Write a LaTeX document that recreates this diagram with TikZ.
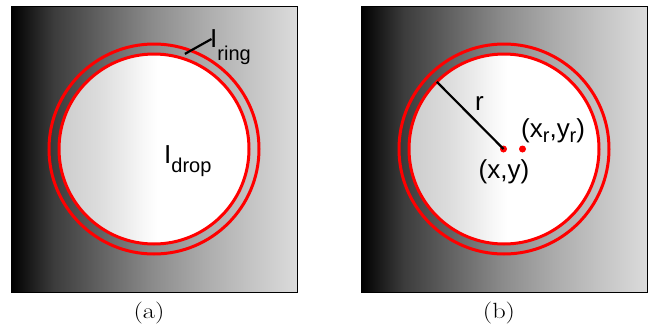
\documentclass[tikz,border=0pt]{standalone}
\usepackage{fontspec}
\newfontfamily\labelfont{Liberation Sans}
\usetikzlibrary{calc}

% grey levels of the background and of the drop
\definecolor{bgOne}{gray}{0.235}
\definecolor{bgTwo}{gray}{0.40}
\definecolor{bgThree}{gray}{0.55}
\definecolor{bgFour}{gray}{0.675}
\definecolor{bgFive}{gray}{0.776}
\definecolor{bgSix}{gray}{0.86}
\definecolor{dropOne}{gray}{0.80}
\definecolor{dropTwo}{gray}{0.86}
\definecolor{dropThree}{gray}{0.92}
\definecolor{dropFour}{gray}{0.97}

\pgfdeclarehorizontalshading{backShade}{100bp}{color(0bp)=(black); color(25bp)=(black);
    color(32.5bp)=(bgOne); color(41.5bp)=(bgTwo); color(50bp)=(bgThree);
    color(59bp)=(bgFour); color(67.5bp)=(bgFive); color(75bp)=(bgSix); color(100bp)=(bgSix)}
\pgfdeclarehorizontalshading{dropShade}{100bp}{color(0bp)=(dropOne); color(25bp)=(dropOne);
    color(35bp)=(dropTwo); color(42bp)=(dropThree); color(47bp)=(dropFour);
    color(51bp)=(white); color(100bp)=(white)}

\newcommand\lowsub[2][0.45em]{\raisebox{-#1}{\fontsize{20}{20}\selectfont #2}}

\begin{document}
\begin{tikzpicture}[
        x=1pt, y=-1pt,
        frameBox/.style={
            draw=black,
            line width=0.8pt
        },
        dropDisc/.style={
            circle,
            draw=red,
            line width=3pt,
            minimum size=190pt,
            inner sep=0pt,
            outer sep=0pt,
            shade,
            shading=dropShade
        },
        ringCircle/.style={
            circle,
            draw=red,
            line width=3pt,
            minimum size=210pt,
            inner sep=0pt,
            outer sep=0pt
        },
        centerDot/.style={
            circle,
            fill=red,
            minimum size=7pt,
            inner sep=0pt
        },
        leaderLine/.style={
            draw=black,
            line width=2.2pt
        },
        sansLabel/.style={
            font=\labelfont\fontsize{26}{26}\selectfont,
            inner sep=0pt
        },
        captionLabel/.style={
            font=\fontsize{22}{22}\selectfont,
            inner sep=0pt
        }
    ]
        \useasboundingbox (0,0) rectangle (651,327);

        % Panel (a): drop and ring
        \shade[shading=backShade] (11,6) rectangle (297,292);
        \node[dropDisc] (dropA) at (154,149) {};
        \node[ringCircle] (ringA) at (154,149) {};
        \draw[frameBox] (11,6) rectangle (297,292);

        \coordinate (ringPtA) at ($(dropA.72)!0.5!(ringA.72)$);
        \node[sansLabel, anchor=base west] (ringLbl) at (210,47) {I\lowsub[0.5em]{ring}};
        \draw[leaderLine] (ringPtA) -- ($(ringLbl.base west)+(1.5,-8)$);
        \node[sansLabel, anchor=base west] (dropLbl) at (164,163) {I\lowsub[0.38em]{drop}};

        % Panel (b): centre and radius
        \shade[shading=backShade] (361,6) rectangle (647,292);
        \node[dropDisc] (dropB) at (504,149) {};
        \node[ringCircle] (ringB) at (504,149) {};
        \draw[frameBox] (361,6) rectangle (647,292);

        \node[centerDot] (cB) at (503.5,149) {};
        \node[centerDot] (cRB) at (522.5,149) {};
        \draw[leaderLine] (cB.center) -- (dropB.135);

        \node[sansLabel, anchor=base] (rLbl) at (479.5,110) {r};
        \node[sansLabel, anchor=base] (cLbl) at (504,178) {(x,y)};
        \node[sansLabel, anchor=base west] (cRLbl) at (521,137)
            {(x\lowsub[0.2em]{r},y\lowsub[0.2em]{r})};

        % Captions
        \node[captionLabel, anchor=base] (capA) at (149,318) {\scalebox{1.2}[1]{(a)}};
        \node[captionLabel, anchor=base] (capB) at (499,318) {\scalebox{1.2}[1]{(b)}};

    \end{tikzpicture}
\end{document}
